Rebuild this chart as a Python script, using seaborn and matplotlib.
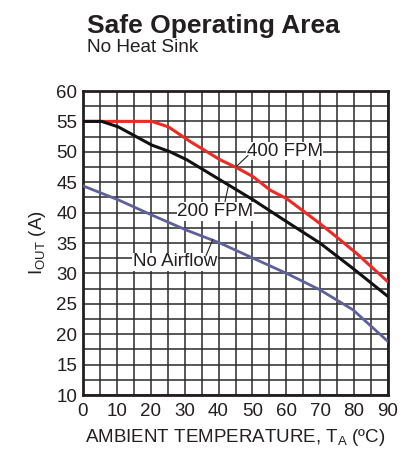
import matplotlib
matplotlib.use("Agg")
import matplotlib.pyplot as plt
import seaborn as sns
import pandas as pd
from matplotlib.ticker import MultipleLocator

# ---- data ----
temp_400 = [0, 20.3, 25.2, 31.6, 40.4, 45.3, 50.2, 55.2, 60.1, 69.9, 74.8, 80.7, 90]
iout_400 = [55, 55, 54.1, 51.7, 48.7, 47.4, 45.9, 43.7, 42.3, 38.2, 36.0, 33.3, 28.6]

temp_200 = [0, 5.5, 10.4, 20.3, 25.7, 30.6, 40.4, 50.2, 60.1, 69.9, 79.7, 90]
iout_200 = [55, 55, 54.1, 51.1, 50.0, 48.7, 45.4, 42.1, 38.5, 35.0, 30.8, 26.2]

temp_0 = [0, 10.4, 20.3, 30.6, 40.4, 50.2, 60.1, 69.9, 79.7, 90]
iout_0 = [44.4, 42.1, 39.6, 37.1, 35.0, 32.5, 30.0, 27.3, 24.0, 18.8]

series_names = ["400 FPM", "200 FPM", "No Airflow"]
series_colors = ["#EE2A24", "#111111", "#5C619C"]
x_ticks = list(range(0, 91, 10))
y_ticks = list(range(10, 61, 5))

df = pd.concat([
    pd.DataFrame({"T": temp_400, "I": iout_400, "s": series_names[0]}),
    pd.DataFrame({"T": temp_200, "I": iout_200, "s": series_names[1]}),
    pd.DataFrame({"T": temp_0, "I": iout_0, "s": series_names[2]}),
])

sns.set_theme(style="white")
plt.rcParams["font.family"] = ["Liberation Sans", "DejaVu Sans"]
plt.rcParams["mathtext.fontset"] = "custom"
plt.rcParams["mathtext.rm"] = "Liberation Sans"
plt.rcParams["mathtext.it"] = "Liberation Sans"

fig = plt.figure(figsize=(4.09, 4.51), dpi=100)
ax = fig.add_axes([83/409, 1-395/451, 305/409, 304/451])

# grid
ax.xaxis.set_major_locator(MultipleLocator(10))
ax.xaxis.set_minor_locator(MultipleLocator(5))
ax.yaxis.set_major_locator(MultipleLocator(5))
ax.yaxis.set_minor_locator(MultipleLocator(2.5))
ax.grid(True, which="both", color="#2a2a2a", linewidth=1.1)
ax.set_axisbelow(True)

for name, col in zip(series_names, series_colors):
    sub = df[df["s"] == name]
    lw = 2.2 if name != "No Airflow" else 2.0
    sns.lineplot(data=sub, x="T", y="I", color=col, linewidth=lw, ax=ax,
                 sort=False, estimator=None, legend=False, zorder=3)

ax.set_xlim(0, 90)
ax.set_ylim(10, 60)
ax.set_xticks(x_ticks)
ax.set_yticks(y_ticks)
ax.tick_params(which="both", length=0, labelsize=13.5, colors="#231f20")
ax.tick_params(axis="x", pad=6)
ax.tick_params(axis="y", pad=4)
for sp in ax.spines.values():
    sp.set_color("#231f20")
    sp.set_linewidth(2)
    sp.set_visible(True)

ax.set_xlabel(r"AMBIENT TEMPERATURE, T$_\mathregular{A}$ (ºC)", fontsize=13.5,
              color="#231f20", labelpad=5)
ax.set_ylabel(r"I$_\mathregular{OUT}$ (A)", fontsize=13.5, color="#231f20", labelpad=6)

# curve labels with leader lines
box = dict(facecolor="white", edgecolor="none", pad=0.5)
ax.text(59.5, 50.1, "400 FPM", fontsize=13.5, ha="center", va="center",
        color="#231f20", bbox=box, zorder=4)
ax.plot([45.3, 48.7], [47.6, 49.4], color="#231f20", lw=0.8, zorder=4)
ax.text(39.1, 40.2, "200 FPM", fontsize=13.5, ha="center", va="center",
        color="#231f20", bbox=box, zorder=4)
ax.plot([41.9, 42.9], [41.8, 44.4], color="#231f20", lw=0.8, zorder=4)
ax.text(27.2, 31.9, "No Airflow", fontsize=13.5, ha="center", va="center",
        color="#231f20", bbox=box, zorder=4)
ax.plot([36.3, 38.3], [32.9, 35.6], color="#231f20", lw=0.8, zorder=4)

fig.text(87/409, 1-33/451, "Safe Operating Area", fontsize=19, fontweight="bold",
         ha="left", va="baseline", color="#231f20")
fig.text(87/409, 1-52.5/451, "No Heat Sink", fontsize=13.7,
         ha="left", va="baseline", color="#231f20")

fig.savefig("out.png", dpi=100)
